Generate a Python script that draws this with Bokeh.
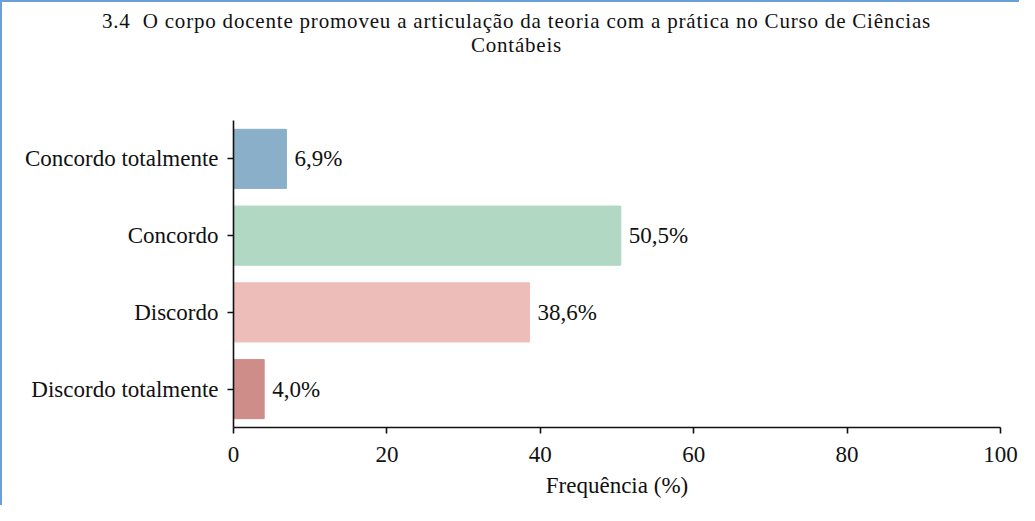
from bokeh.plotting import figure
from bokeh.models import Range1d, FixedTicker, ColumnDataSource, Div
from bokeh.layouts import column
from bokeh.core.properties import value
from bokeh.embed import file_html
from bokeh.resources import INLINE

categories = ["Concordo totalmente", "Concordo", "Discordo", "Discordo totalmente"]
values = [6.9, 50.5, 38.6, 4.0]
labels = ["6,9%", "50,5%", "38,6%", "4,0%"]
colors = ["#8AB0C9", "#B0D8C3", "#EDBDB9", "#CF8D89"]
x_ticks = [0, 20, 40, 60, 80, 100]
title_lines = ["3.4&nbsp; O corpo docente promoveu a articulação da teoria com a prática no Curso de Ciências",
               "Contábeis"]
x_label = "Frequência (%)"

FONT = "Liberation Serif"
FS = "23px"
W = 1019
n = len(categories)
ypos = [n - 1 - i for i in range(n)]

src = ColumnDataSource(dict(y=ypos, v=values, lab=labels, c=colors))

TOP = 64
inner = ("<div style=\"width:%dpx; box-sizing:border-box; padding:9px 0 0 14px; text-align:center; "
         "font-family:'%s'; font-size:21px; letter-spacing:0.8px; line-height:24px; color:#111111;\">%s</div>"
         % (W, FONT, "<br>".join(title_lines)))
title = Div(text=inner, width=W, height=TOP, styles={"margin": "0", "padding": "0"})

p = figure(width=W, height=505 - TOP, output_backend="svg", toolbar_location=None,
           x_range=Range1d(0, 100), y_range=Range1d(-0.5, n - 0.5),
           min_border_left=233, min_border_right=19, min_border_top=120 - TOP, min_border_bottom=78)
p.background_fill_color = None
p.border_fill_color = None
p.outline_line_color = None
p.grid.visible = False

p.hbar(y="y", right="v", left=0, height=0.77, color="c", source=src)
p.text(x="v", y="y", text="lab", source=src, x_offset=8, text_baseline="middle",
       text_align="left", text_font=value(FONT), text_font_size=FS, text_color="#111111")

p.xaxis.ticker = FixedTicker(ticks=x_ticks)
p.yaxis.ticker = FixedTicker(ticks=ypos)
p.yaxis.major_label_overrides = {ypos[i]: categories[i] for i in range(n)}
for ax in (p.xaxis[0], p.yaxis[0]):
    ax.axis_line_width = 1.6
    ax.axis_line_color = "#111111"
    ax.major_tick_line_width = 1.6
    ax.major_tick_line_color = "#111111"
    ax.major_tick_out = 6
    ax.major_tick_in = 0
    ax.minor_tick_line_color = None
    ax.major_label_text_font = FONT
    ax.major_label_text_font_size = FS
    ax.major_label_text_color = "#111111"
p.yaxis.major_label_standoff = 9
p.xaxis.major_label_standoff = 13
p.xaxis.axis_label = x_label
p.xaxis.axis_label_text_font = FONT
p.xaxis.axis_label_text_font_size = FS
p.xaxis.axis_label_text_font_style = "normal"
p.xaxis.axis_label_text_color = "#111111"
p.xaxis.axis_label_standoff = 8

layout = column(title, p, spacing=0, width=W,
                styles={"box-shadow": "inset 2px 2px 0 0 #6A9FD8"})

open("out.html", "w").write(file_html(layout, INLINE))
